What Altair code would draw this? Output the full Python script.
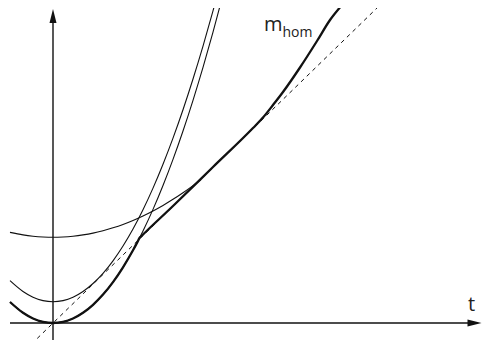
import altair as alt
import pandas as pd

# ---- data (units: t horizontal, m vertical) ----
low_t = [-0.43, -0.3, -0.2, -0.1, 0.0, 0.1, 0.2, 0.3, 0.4, 0.5, 0.6, 0.7, 0.8, 0.9, 1.0, 1.1, 1.2, 1.3, 1.4, 1.5, 1.6, 1.7]
low_y = [0.210, 0.102, 0.045, 0.011, 0.0, 0.011, 0.045, 0.102, 0.182, 0.284, 0.409, 0.557, 0.727, 0.920, 1.136, 1.375, 1.636, 1.920, 2.227, 2.556, 2.908, 3.283]

mid_t = [-0.43, -0.3, -0.2, -0.1, 0.0, 0.1, 0.2, 0.3, 0.4, 0.5, 0.6, 0.7, 0.8, 0.9, 1.0, 1.1, 1.2, 1.3, 1.4, 1.5, 1.6, 1.7]
mid_y = [0.423, 0.315, 0.258, 0.224, 0.213, 0.224, 0.258, 0.315, 0.395, 0.497, 0.622, 0.770, 0.940, 1.133, 1.349, 1.588, 1.849, 2.133, 2.440, 2.769, 3.121, 3.496]

up_t = [-0.43, -0.3, -0.2, -0.1, 0.0, 0.1, 0.2, 0.3, 0.4, 0.5, 0.6, 0.7, 0.8, 0.9, 1.0, 1.1, 1.2, 1.3, 1.4, 1.48]
up_y = [0.906, 0.881, 0.868, 0.860, 0.857, 0.860, 0.868, 0.881, 0.899, 0.923, 0.952, 0.986, 1.026, 1.071, 1.121, 1.176, 1.237, 1.303, 1.374, 1.435]

hom_t = [-0.43, -0.3, -0.2, -0.1, 0.0, 0.1, 0.2, 0.3, 0.4, 0.5, 0.6, 0.7, 0.8, 0.845, 0.865, 0.885, 1.2, 1.6, 2.0, 2.1, 2.2, 2.3, 2.47, 2.64, 2.77, 2.89]
hom_y = [0.210, 0.102, 0.045, 0.011, 0.0, 0.011, 0.045, 0.102, 0.182, 0.284, 0.409, 0.557, 0.727, 0.811, 0.850, 0.870, 1.170, 1.560, 1.950, 2.055, 2.180, 2.310, 2.555, 2.820, 3.030, 3.180]

dash_t = [-0.215, 3.25]
dash_y = [-0.21, 3.16]

# axes: t-axis and m-axis lines, arrow tips
axis_t = [-0.43, 0.0]
axis_t2 = [4.20, 0.0]
axis_y = [0.0, -0.21]
axis_y2 = [0.0, 3.05]

tip_t = [4.285, 0.0]
tip_y = [0.0, 3.14]
tip_shape = ["M0,0L-2,-0.5L-2,0.5Z", "M0,0L0.5,2L-0.5,2Z"]

labels = ["m", "hom", "t"]
label_t = [2.11, 2.295, 4.15]
label_y = [2.923, 2.863, 0.123]
label_size = [20, 14, 20]

T_DOM = [-0.45, 4.29]
Y_DOM = [-0.17, 3.15]
INK = "#111111"

xs = alt.Scale(domain=T_DOM, nice=False, zero=False)
ys = alt.Scale(domain=Y_DOM, nice=False, zero=False)


def curve(t, y, width, dash=None):
    df = pd.DataFrame({"t": t, "y": y, "o": range(len(t))})
    kw = dict(color=INK, strokeWidth=width, interpolate="monotone", clip=True)
    if dash:
        kw["strokeDash"] = dash
        kw["interpolate"] = "linear"
    return alt.Chart(df).mark_line(**kw).encode(
        x=alt.X("t:Q", scale=xs, axis=None),
        y=alt.Y("y:Q", scale=ys, axis=None),
        order="o:Q",
    )


axes_df = pd.DataFrame({"t": axis_t, "t2": axis_t2, "y": axis_y, "y2": axis_y2})
axes = alt.Chart(axes_df).mark_rule(color=INK, strokeWidth=1.4, clip=True).encode(
    x=alt.X("t:Q", scale=xs, axis=None), x2="t2:Q",
    y=alt.Y("y:Q", scale=ys, axis=None), y2="y2:Q",
)

tips = alt.layer(*[
    alt.Chart(pd.DataFrame({"t": [tip_t[i]], "y": [tip_y[i]]})).mark_point(
        shape=tip_shape[i], size=196, filled=True, color=INK, opacity=1, strokeWidth=0
    ).encode(
        x=alt.X("t:Q", scale=xs, axis=None),
        y=alt.Y("y:Q", scale=ys, axis=None),
    )
    for i in range(2)
])

texts = alt.layer(*[
    alt.Chart(pd.DataFrame({"t": [label_t[i]], "y": [label_y[i]], "s": [labels[i]]})).mark_text(
        font="Open Sans", fontSize=label_size[i], color="#222222", align="left", baseline="alphabetic"
    ).encode(
        x=alt.X("t:Q", scale=xs, axis=None),
        y=alt.Y("y:Q", scale=ys, axis=None),
        text="s:N",
    )
    for i in range(3)
])

chart = alt.layer(
    curve(dash_t, dash_y, 1.0, [4, 4]),
    curve(up_t, up_y, 1.1),
    curve(mid_t, mid_y, 1.1),
    curve(low_t, low_y, 1.1),
    axes,
    curve(hom_t, hom_y, 2.3),
    tips,
    texts,
).properties(
    width=474, height=332,
    autosize=alt.AutoSizeParams(type="none"),
    padding=0,
).configure_view(stroke=None)

chart.save("out.html", embed_options={"renderer": "svg", "actions": False})
